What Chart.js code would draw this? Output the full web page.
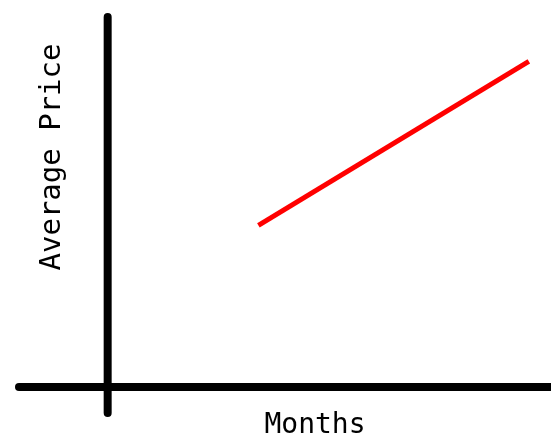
<!DOCTYPE html>
<html>
<head>
<meta charset="utf-8">
<script src="https://cdn.jsdelivr.net/npm/chart.js@4"></script>
<style>
  html, body { margin: 0; padding: 0; background: #fff; }
  #wrap { width: 551px; height: 435px; position: relative; }
</style>
</head>
<body>
<div id="wrap"><canvas id="priceChart"></canvas></div>
<script>
// Data
const months = [3.4, 9.5];
const avgPrice = [6.2, 12.5];

// Axis ranges (the two axis lines are drawn across the whole range)
const xRange = [-2, 10];
const yRange = [-1, 14.2];

const xTitle = 'Months';
const yTitle = 'Average Price';

// Hand-drawn looking axis titles
const axisTitles = {
  id: 'axisTitles',
  afterDraw(chart) {
    const ctx = chart.ctx;
    ctx.save();
    ctx.fillStyle = '#000';
    ctx.font = '28px "DejaVu Sans Mono"';
    ctx.textAlign = 'center';
    ctx.textBaseline = 'alphabetic';
    ctx.fillText(xTitle, 315, 433);
    ctx.font = '29px "DejaVu Sans Mono"';
    ctx.translate(60, 157);
    ctx.rotate(-Math.PI / 2);
    ctx.fillText(yTitle, 0, 0);
    ctx.restore();
  }
};

const ctx = document.getElementById('priceChart').getContext('2d');
new Chart(ctx, {
  type: 'line',
  data: {
    datasets: [
      {
        label: 'Average Price',
        data: months.map((m, i) => ({ x: m, y: avgPrice[i] })),
        borderColor: '#ff0000',
        borderWidth: 5,
        pointRadius: 0,
        clip: false
      },
      {
        label: 'x axis',
        data: xRange.map(v => ({ x: v, y: 0 })),
        borderColor: '#000',
        borderWidth: 8,
        borderCapStyle: 'round',
        pointRadius: 0,
        clip: false
      },
      {
        label: 'y axis',
        data: yRange.map(v => ({ x: 0, y: v })),
        borderColor: '#000',
        borderWidth: 8,
        borderCapStyle: 'round',
        pointRadius: 0,
        clip: false
      }
    ]
  },
  options: {
    responsive: true,
    maintainAspectRatio: false,
    animation: false,
    layout: { padding: { left: 19, right: 0, top: 17, bottom: 22 } },
    scales: {
      x: { type: 'linear', min: xRange[0], max: xRange[1], display: false },
      y: { type: 'linear', min: yRange[0], max: yRange[1], display: false }
    },
    plugins: {
      legend: { display: false },
      tooltip: { enabled: false }
    }
  },
  plugins: [axisTitles]
});
</script>
</body>
</html>
